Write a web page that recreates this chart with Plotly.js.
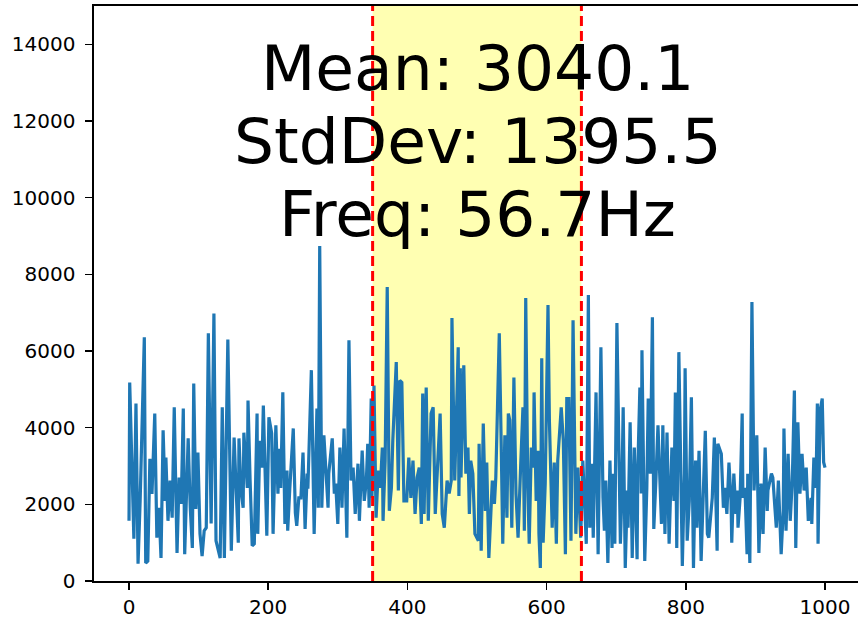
<!DOCTYPE html>
<html>
<head>
<meta charset="utf-8">
<script src="https://cdn.plot.ly/plotly-3.0.1.min.js"></script>
<style>html,body{margin:0;padding:0;background:#fff;}#chart{width:858px;height:618px;}</style>
</head>
<body>
<div id="chart"></div>
<script>
// Signal samples
const xValues = [
  0,1,7,10,13,16,22,24,27,30,33,37,40,43,46,49,52,53,56,59,62,65,69,72,75,78,80,85,88,91,93,96,99,102,105,108,111,114,118,122,125,131,134,137,142,147,151,
  157,158,161,164,165,170,171,174,177,180,184,185,188,191,193,198,201,205,207,211,214,216,218,221,224,227,228,231,236,239,241,244,247,250,253,256,257,262,266,270,272,274,277,280,283,286,287,292,295,297,300,303,306,309,
  313,316,319,322,325,329,331,335,338,341,343,345,348,349,352,355,358,361,364,365,368,371,374,377,379,384,387,389,392,395,399,402,405,408,411,414,417,420,422,424,427,430,434,437,440,443,447,450,453,457,460,463,464,467,
  468,473,474,476,477,481,484,487,489,491,494,497,502,503,506,509,512,514,517,522,525,527,532,535,537,540,543,545,547,550,553,556,559,563,566,568,570,573,575,578,581,582,585,588,589,591,593,595,598,602,604,608,611,614,616,621,624,627,629,632,635,638,642,645,649,652,
  655,657,660,662,665,667,671,674,678,681,683,685,688,691,694,695,698,701,706,708,710,713,716,717,720,723,726,730,731,734,736,737,741,744,746,749,752,754,757,760,765,767,770,773,776,780,783,785,787,790,795,798,799,802,805,808,811,814,816,819,822,825,828,831,833,838,841,
  845,846,851,854,856,859,862,865,866,869,872,874,875,878,881,882,885,888,889,892,895,898,902,905,908,911,914,917,918,923,925,930,933,937,940,941,944,947,950,953,956,958,961,964,967,970,973,976,980,981,984,987,989,990,993,996,998,1000
];
const yValues = [
  1570,5180,1100,4630,450,2090,6360,470,520,3190,2270,4370,1130,1910,600,3930,2090,3220,1570,2620,1650,4530,730,2700,2010,4500,700,3720,1910,860,5150,1880,3350,1230,650,1310,1390,6460,1500,6980,1050,600,4530,600,6300,790,3740,
  1000,3720,2360,1910,3870,2430,4710,2620,920,970,4370,1230,3660,2960,4580,1180,4270,3850,1230,4060,2280,3450,2430,4920,1490,2880,1310,2410,3980,1780,1440,2170,2170,3350,1360,2800,2410,5500,1230,4500,1910,8740,1910,3800,2800,1910,2800,3720,2280,2540,1490,3480,1910,3980,
  1130,6280,2620,2960,1750,3060,1570,3400,2090,2620,3580,1910,4760,2170,5100,1650,2880,2430,3480,1570,3140,7670,1830,2430,3660,5710,2360,5230,5180,2090,2090,3220,2170,3140,1750,2700,2960,1490,4890,1750,5050,1570,4370,4530,1750,2960,4370,1750,1390,2620,2280,2620,6860,3660,
  2620,6100,2220,5550,2700,5630,2800,3480,1750,3140,2800,1230,1050,3580,790,4110,1830,3090,600,2620,2010,2700,6460,3320,970,3800,1650,4370,4200,1390,5310,2280,1130,3140,4530,1310,7380,2430,970,3480,2960,4920,2090,3400,1230,340,5810,1000,2540,7200,4190,1390,3090,970,3140,4530,3660,700,4760,4760,1050,6800,1230,2960,1130,3140,
  1910,970,7460,1390,3060,1130,4920,700,6100,2170,1310,2620,470,3140,860,2800,970,6730,970,2170,4530,340,2360,1390,4140,600,3480,570,2880,5050,2280,6020,520,2430,4760,2800,6880,1360,2620,4060,1490,4060,1230,3870,970,3480,2090,4920,860,5970,390,2800,5550,1050,2090,4790,340,3140,1390,3400,520,2620,3920,1230,1130,2170,3740,
  790,3580,3320,1910,2430,1750,3090,2090,1000,2800,1750,2360,1390,2170,4370,2170,2430,700,2800,470,7280,2360,3800,730,2540,1230,3480,1830,2360,2800,2700,1390,2620,700,1830,3980,1310,3320,1570,2620,4970,860,4140,2280,3320,2360,2960,1570,2170,1490,3220,2430,4630,970,4450,4760,3100,2960
];
const spanBounds = [350, 650];
const statLines = ["Mean: 3040.1", "StdDev: 1395.5", "Freq: 56.7Hz"];
const statY = [13380, 11460, 9570];
const xTicks = [0, 200, 400, 600, 800, 1000];
const yTicks = [0, 2000, 4000, 6000, 8000, 10000, 12000, 14000];

const trace = {
  x: xValues, y: yValues, type: 'scatter', mode: 'lines',
  line: {color: '#1f77b4', width: 3.2}, hoverinfo: 'skip'
};

const shapes = [
  {type: 'rect', xref: 'x', yref: 'paper', x0: spanBounds[0], x1: spanBounds[1], y0: 0, y1: 1,
   fillcolor: 'rgba(255,255,0,0.3)', line: {width: 0}, layer: 'below'}
].concat(spanBounds.map(b => ({
  type: 'line', xref: 'x', yref: 'paper', x0: b, x1: b, y0: 0, y1: 1,
  line: {color: 'red', width: 3, dash: '10px,5px'}, layer: 'above'
})));

const annotations = statLines.map((t, i) => ({
  text: t, x: 500, y: statY[i], xref: 'x', yref: 'y', showarrow: false,
  xanchor: 'center', yanchor: 'middle',
  font: {family: 'DejaVu Sans', size: 63, color: '#000'}
}));

const axisCommon = {
  showgrid: false, zeroline: false, showline: true, linecolor: '#000', linewidth: 1.6,
  ticks: 'outside', ticklen: 7, tickwidth: 1.6, tickcolor: '#000',
  tickfont: {family: 'DejaVu Sans', size: 20, color: '#000'}
};

const layout = {
  width: 858, height: 618,
  margin: {l: 94, r: 0, t: 6, b: 37, pad: 0},
  paper_bgcolor: '#fff', plot_bgcolor: '#fff',
  showlegend: false,
  xaxis: Object.assign({}, axisCommon, {range: [-50.3, 1047.4], tickmode: 'array', tickvals: xTicks, ticktext: xTicks.map(String), mirror: true}),
  yaxis: Object.assign({}, axisCommon, {range: [0, 15000], tickmode: 'array', tickvals: yTicks, ticktext: yTicks.map(String), ticklabelstandoff: 6}),
  shapes: shapes,
  annotations: annotations
};

Plotly.newPlot('chart', [trace], layout, {displayModeBar: false, staticPlot: true});
</script>
</body>
</html>
